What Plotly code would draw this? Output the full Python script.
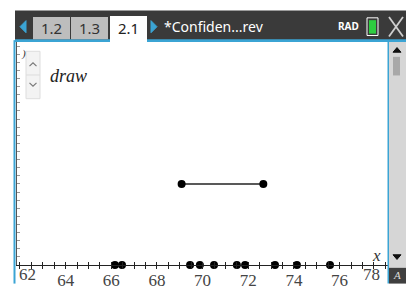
import plotly.graph_objects as go
import numpy as np

# ---- data ----
sample_values = [66.16, 66.47, 69.45, 69.88, 70.50, 71.50, 71.86, 73.17, 74.13, 75.58]
interval_ends = [69.08, 72.66]
interval_level = [10, 10]
tick_labels = [62, 64, 66, 68, 70, 72, 74, 76, 78]
x_range = [61.87, 78.12]
y_range = [0, 27.5]

W, H = 406, 302
L, R, T, B = 17, 388, 42, 282


def px(x):
    return (x - L) / (R - L)


def py(y):
    return (B - y) / (B - T)


fig = go.Figure()

fig.add_trace(go.Scatter(
    x=sample_values, y=[0] * len(sample_values), mode="markers",
    marker=dict(color="black", size=8), cliponaxis=False, hoverinfo="skip"))
fig.add_trace(go.Scatter(
    x=interval_ends, y=interval_level, mode="lines+markers",
    line=dict(color="#222", width=1.5),
    marker=dict(color="black", size=8), cliponaxis=False, hoverinfo="skip"))
# invisible trace for the overlay axis (ticks below the line)
fig.add_trace(go.Scatter(x=[x_range[0]], y=[0], xaxis="x2", mode="markers",
                         marker=dict(opacity=0), hoverinfo="skip"))

inner_vals = tick_labels[1:-1]
axis_common = dict(range=x_range, showgrid=False, zeroline=False,
                   showline=True, linecolor="#222", linewidth=1,
                   tickcolor="#222", ticklen=3, tickwidth=1)
fig.update_layout(
    width=W, height=H,
    margin=dict(l=L, r=W - R, t=T, b=H - B, pad=0),
    paper_bgcolor="white", plot_bgcolor="white",
    showlegend=False,
    xaxis=dict(**axis_common, ticks="inside", tickvals=inner_vals,
               ticktext=[str(v) for v in inner_vals],
               tickfont=dict(family="Liberation Serif", size=17, color="#444"),
               minor=dict(ticks="inside", dtick=0.5, ticklen=3, tickcolor="#222")),
    xaxis2=dict(**axis_common, overlaying="x", matches="x", anchor="y", side="bottom",
                ticks="outside", tickvals=inner_vals, showticklabels=False,
                minor=dict(ticks="outside", dtick=0.5, ticklen=3, tickcolor="#222")),
    yaxis=dict(range=y_range, showgrid=False, zeroline=False, showline=True,
               linecolor="#555", linewidth=1, ticks="inside", dtick=1, ticklen=3,
               tickcolor="#999", showticklabels=False),
)

shapes = []
ann = []


def rect(x0, y0, x1, y1, fill, line=None, lw=0):
    shapes.append(dict(type="rect", xref="paper", yref="paper",
                       x0=px(x0), x1=px(x1), y0=py(y0), y1=py(y1),
                       fillcolor=fill, line=dict(color=line or fill, width=lw),
                       layer="above"))


def path(d_pts, color, width=1.5, fill=None, closed=False):
    d = "M " + " L ".join(f"{px(a)},{py(b)}" for a, b in d_pts)
    if closed:
        d += " Z"
    shapes.append(dict(type="path", xref="paper", yref="paper", path=d,
                       line=dict(color=color, width=width),
                       fillcolor=fill if fill else "rgba(0,0,0,0)", layer="above"))


def text(x, y, s, size, color, family="Noto Sans", xanchor="left", italic=False):
    ann.append(dict(xref="paper", yref="paper", x=px(x), y=py(y), text=s,
                    showarrow=False, xanchor=xanchor, yanchor="middle",
                    font=dict(size=size, color=color, family=family,
                              style="italic" if italic else "normal")))


# title bar
rect(15, 8, 406, 40, "#3a3a3a")
rect(15, 39, 406, 42, "#3ba4d4")
rect(33, 15, 70, 39, "#bdbdbd")
rect(71, 15, 108, 39, "#bdbdbd")
rect(110, 14, 147, 42, "white")
path([(26, 19), (20, 25.5), (26, 32)], "#3ba4d4", 1, fill="#3ba4d4", closed=True)
path([(151, 19), (157, 25.5), (151, 32)], "#3ba4d4", 1, fill="#3ba4d4", closed=True)
text(51.5, 27, "1.2", 15, "#333", xanchor="center")
text(89.5, 27, "1.3", 15, "#333", xanchor="center")
text(128.5, 27, "2.1", 15, "#222", xanchor="center")
text(162, 25, "*Confiden...rev", 14, "white")
text(336, 25, "<b>RAD</b>", 10, "white")
rect(367, 16, 378, 35, "#3a3a3a", "white", 1)
rect(369, 18.5, 376, 33, "#2ecc40")
path([(389, 15), (403, 36)], "#cfcfcf", 1.8)
path([(403, 15), (389, 36)], "#cfcfcf", 1.8)

# left frame
rect(13.5, 40, 15.5, 302, "#3ba4d4")

# right scrollbar
rect(387.5, 42, 389, 302, "#3ba4d4")
rect(389, 42, 406, 285, "#d6d6d6")
path([(393, 53), (397, 48), (401, 53)], "#111", 1, fill="#111", closed=True)
rect(393, 58, 400, 78, "#a8a8a8")
path([(393, 271), (397, 276), (401, 271)], "#111", 1, fill="#111", closed=True)
rect(389, 285, 406, 302, "#3f3f3f")
text(397, 293, "A", 11, "#dddddd", family="Liberation Serif", xanchor="center", italic=True)

# up/down widget
rect(26, 52, 40, 103, "#f3f3f3", "#dddddd", 1)
path([(26, 77.5), (40, 77.5)], "#dddddd", 1)
path([(29.5, 68), (33, 64.5), (36.5, 68)], "#777", 1.2)
path([(29.5, 86), (33, 89.5), (36.5, 86)], "#777", 1.2)
text(19, 54, ")", 11, "#333", family="Liberation Serif", italic=True)
text(48, 79, "draw", 18, "#222", family="Liberation Serif", italic=True)

# end tick labels
ann.append(dict(xref="x", yref="paper", x=tick_labels[0], y=py(292), text=str(tick_labels[0]),
                showarrow=False, xanchor="left", yanchor="middle", xshift=-3,
                font=dict(family="Liberation Serif", size=17, color="#444")))
ann.append(dict(xref="x", yref="paper", x=tick_labels[-1], y=py(292), text=str(tick_labels[-1]),
                showarrow=False, xanchor="right", yanchor="middle", xshift=-3,
                font=dict(family="Liberation Serif", size=17, color="#444")))
# axis name
ann.append(dict(xref="paper", yref="paper", x=px(376), y=py(272), text="x",
                showarrow=False, xanchor="center", yanchor="middle",
                font=dict(family="Liberation Serif", size=17, color="#333", style="italic")))

fig.update_layout(shapes=shapes, annotations=ann)
fig.write_html("out.html", config={"displayModeBar": False},
               post_script="document.body.style.margin='0';document.body.style.overflow='hidden';")
